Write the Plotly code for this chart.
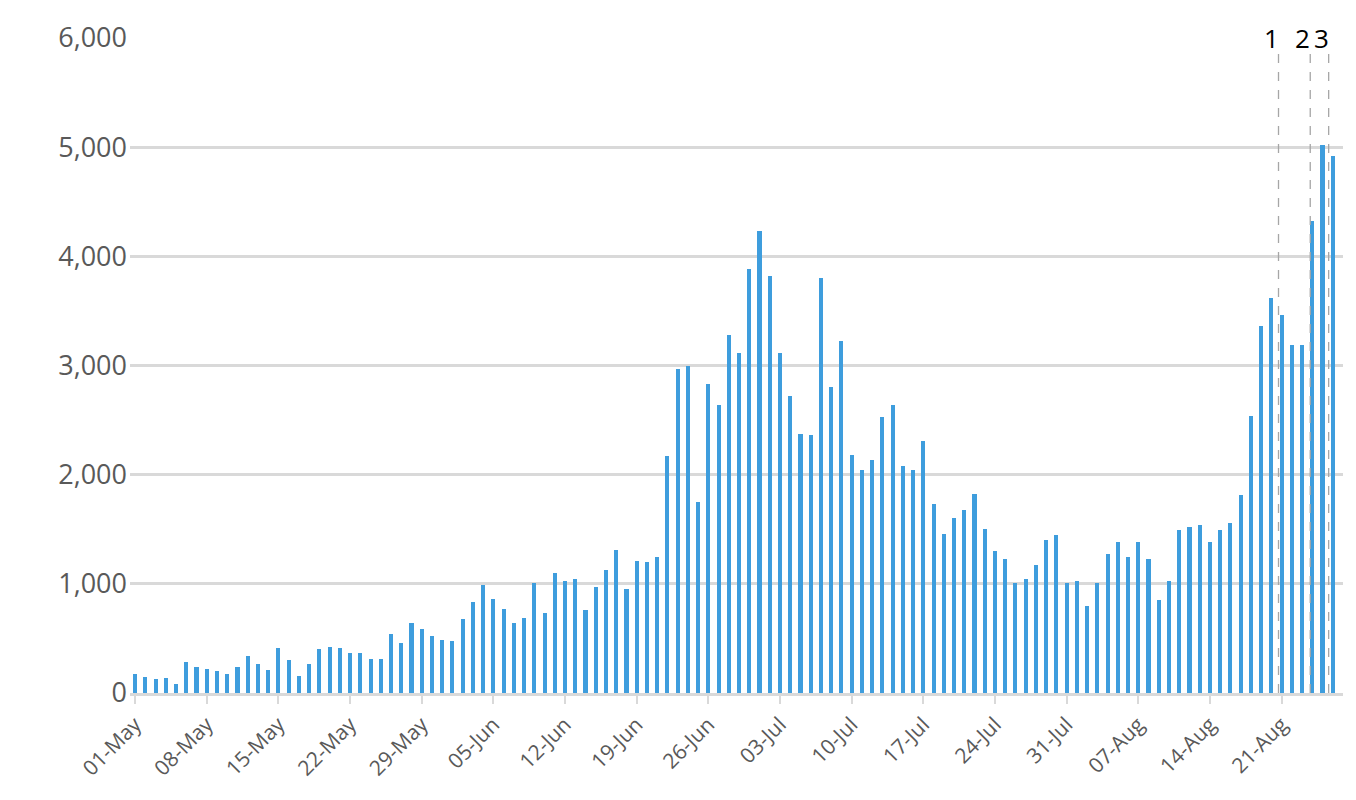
import plotly.graph_objects as go
import datetime as dt

values = [170,150,130,140,80,280,240,220,200,170,
          240,340,270,210,410,300,160,270,400,420,410,
          370,370,310,310,540,460,640,590,520,490,480,
          680,830,990,860,770,640,690,1010,730,1100,
          1030,1040,760,970,1130,1310,950,1210,1200,1250,
          2170,2970,3000,1750,2830,2640,3280,3110,3880,4230,
          3820,3110,2720,2370,2360,3800,2800,3220,2180,2040,
          2130,2530,2640,2080,2040,2310,1730,1460,1600,1680,
          1820,1500,1300,1230,1010,1040,1170,1400,1450,1010,
          1030,800,1010,1270,1380,1250,1380,1230,850,1030,
          1490,1520,1540,1380,1490,1560,1810,2540,3360,3620,
          3460,3190,3190,4320,5020,4920]
start = dt.date(2020, 5, 1)
dates = [start + dt.timedelta(days=i) for i in range(len(values))]
idx = list(range(len(values)))
tick_idx = list(range(0, len(values), 7))
tick_text = [dates[i].strftime("%d-%b") for i in tick_idx]
marker_labels = ["1", "2", "3"]
marker_pos = [111.7, 114.8, 116.6]

fig = go.Figure(go.Bar(x=idx, y=values, width=0.4, marker=dict(color="#3e9ddd", line=dict(width=0))))

for lab, xp in zip(marker_labels, marker_pos):
    fig.add_shape(type="line", x0=xp, x1=xp, y0=0, y1=5900, xref="x", yref="y",
                  line=dict(color="#a6a6a6", width=1.3, dash="dash"))
    fig.add_annotation(x=xp, y=6000, text=lab, showarrow=False, xanchor="right", xshift=2,
                       yanchor="middle", font=dict(size=26, color="black", family="Open Sans, Liberation Sans"))

fig.update_layout(
    width=1356, height=800, plot_bgcolor="white", paper_bgcolor="white",
    margin=dict(l=122, r=21, t=30, b=115, autoexpand=False), showlegend=False, bargap=0,
    font=dict(family="Open Sans, Liberation Sans", color="#595959"),
)
fig.update_xaxes(range=[-0.5, 118], tickvals=tick_idx, ticktext=tick_text,
                 tickangle=-45, tickfont=dict(size=21, color="#595959"),
                 showgrid=False, showline=True, linecolor="#d9d9d9", linewidth=3,
                 ticks="outside", tickcolor="#d9d9d9", ticklen=8, tickwidth=2)
fig.update_yaxes(range=[0, 6000], tickvals=[0,1000,2000,3000,4000,5000,6000],
                 tickformat=",", tickfont=dict(size=27, color="#595959"),
                 showgrid=True, gridcolor="#d9d9d9", gridwidth=3, zeroline=False,
                 ticklabelstandoff=2)
fig.write_html("out.html")
